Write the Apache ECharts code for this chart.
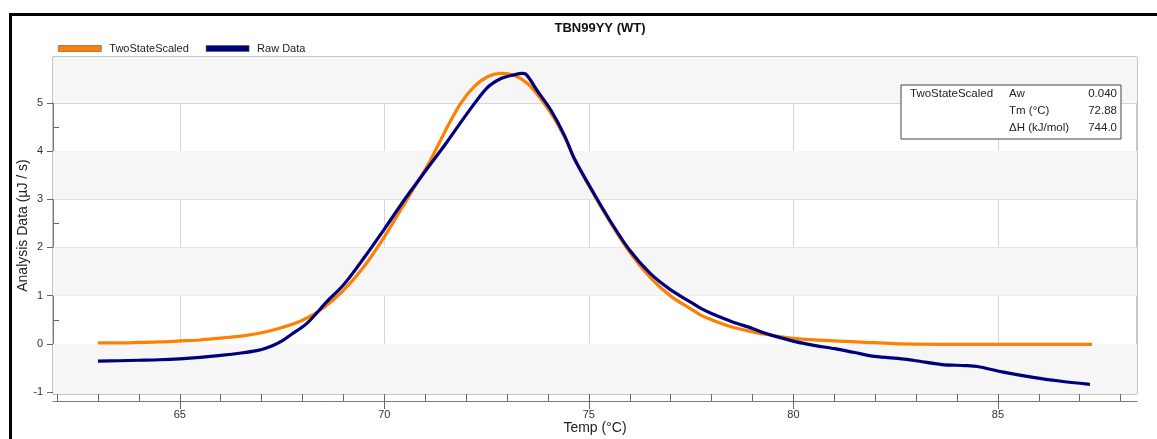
<!DOCTYPE html>
<html>
<head>
<meta charset="utf-8">
<script src="https://cdn.jsdelivr.net/npm/echarts@6/dist/echarts.min.js"></script>
<style>
html,body{margin:0;padding:0;background:#fff;}
#c{width:1157px;height:439px;}
</style>
</head>
<body>
<div id="c"></div>
<script>
// ---- data ----
const titleText = 'TBN99YY (WT)';
const seriesNames = ['TwoStateScaled', 'Raw Data'];
const fitTemp = [63.0,63.5,64.0,64.5,65.0,65.5,66.0,66.5,67.0,67.5,68.0,68.5,69.0,69.5,70.0,70.5,71.0,71.13,71.54,71.86,72.19,72.52,72.84,73.17,73.5,73.82,74.15,74.48,74.64,75.0,75.5,76.0,76.5,77.0,77.5,77.75,78.0,78.5,79.0,79.22,80.07,81.0,82.0,82.65,84.0,85.0,86.0,87.3];
const fitValue = [0.02,0.02,0.03,0.04,0.06,0.08,0.12,0.16,0.23,0.34,0.49,0.74,1.11,1.60,2.22,2.92,3.62,3.81,4.50,4.98,5.33,5.54,5.61,5.57,5.40,5.09,4.68,4.16,3.85,3.28,2.55,1.90,1.38,0.99,0.72,0.59,0.50,0.35,0.25,0.21,0.11,0.06,0.025,0.0,-0.01,-0.01,-0.01,-0.01];
const rawTemp = [63.0,63.5,64.0,64.5,65.0,65.5,66.0,66.5,66.88,67.1,67.29,67.5,67.7,68.1,68.6,69.0,69.5,70.0,70.5,71.0,71.5,72.0,72.5,72.84,73.17,73.37,73.45,73.73,74.07,74.4,74.64,75.0,75.5,76.0,76.5,77.0,77.5,77.75,78.0,78.5,79.0,79.22,79.5,80.07,80.5,81.01,81.5,81.99,82.65,83.0,83.63,84.2,84.5,85.1,85.9,86.5,87.25];
const rawValue = [-0.36,-0.35,-0.34,-0.33,-0.31,-0.28,-0.24,-0.19,-0.14,-0.09,-0.03,0.06,0.18,0.42,0.88,1.22,1.78,2.38,3.00,3.58,4.15,4.75,5.30,5.50,5.58,5.61,5.60,5.26,4.85,4.33,3.85,3.30,2.58,1.94,1.46,1.12,0.86,0.73,0.63,0.46,0.32,0.245,0.17,0.04,-0.03,-0.10,-0.18,-0.26,-0.31,-0.35,-0.43,-0.45,-0.47,-0.58,-0.70,-0.77,-0.84];
const xTickLabels = [65, 70, 75, 80, 85];
const xMinorTicks = [62,63,64,65,66,67,68,69,70,71,72,73,74,75,76,77,78,79,80,81,82,83,84,85,86,87,88];
const yTickLabels = [-1, 0, 1, 2, 3, 4, 5];
const yMinorTicks = [-0.5, 0.5, 1.5, 2.5, 3.5, 4.5, 5.5];
const xRange = [61.9, 88.4];
const yRange = [-1.04, 5.95];
const shadedBands = [[-1.04, 0], [1, 2], [3, 4], [5, 5.95]];
const infoSeries = 'TwoStateScaled';
const infoLabels = ['Aw', 'Tm (°C)', 'ΔH (kJ/mol)'];
const infoValues = ['0.040', '72.88', '744.0'];
const xAxisName = 'Temp (°C)';
const yAxisName = 'Analysis Data (µJ / s)';

// ---- chart ----
const FONT = '"Liberation Sans", Arial, sans-serif';
const chart = echarts.init(document.getElementById('c'), null, {renderer: 'canvas'});
const fitData = fitTemp.map((t, i) => [t, fitValue[i]]);
const rawData = rawTemp.map((t, i) => [t, rawValue[i]]);

const infoGraphics = [
  {type: 'rect', shape: {x: 901, y: 85, width: 220, height: 54}, style: {fill: '#fff', stroke: '#444', lineWidth: 1}, z: 100},
  {type: 'text', x: 910, y: 94, style: {text: infoSeries, font: '11.5px ' + FONT, fill: '#222', textVerticalAlign: 'middle'}, z: 101}
];
infoLabels.forEach((l, i) => {
  const y = 94 + i * 17;
  infoGraphics.push({type: 'text', x: 1009, y: y, style: {text: l, font: '11.5px ' + FONT, fill: '#222', textVerticalAlign: 'middle'}, z: 101});
  infoGraphics.push({type: 'text', x: 1117, y: y, style: {text: infoValues[i], font: '11.5px ' + FONT, fill: '#222', textAlign: 'right', textVerticalAlign: 'middle'}, z: 101});
});

chart.setOption({
  animation: false,
  backgroundColor: '#fff',
  title: {
    text: titleText, left: 595, top: 17, textAlign: 'center',
    textStyle: {fontFamily: FONT, fontSize: 13, fontWeight: 'bold', color: '#111'}
  },
  legend: {
    left: 53, top: 38, itemWidth: 43, itemHeight: 6, itemGap: 17, icon: 'rect',
    textStyle: {fontFamily: FONT, fontSize: 11, color: '#222', padding: [0, 0, 0, 3]},
    itemStyle: {borderColor: '#555', borderWidth: 0.6},
    data: seriesNames
  },
  grid: {left: 53, right: 20, top: 57, bottom: 45, show: true, borderColor: '#8a8a8a', borderWidth: 1, backgroundColor: '#fff', containLabel: false, outerBoundsMode: 'none'},
  xAxis: [{
    type: 'value', min: xRange[0], max: xRange[1], offset: 7, position: 'bottom',
    name: xAxisName, nameLocation: 'middle', nameGap: 20, nameMoveOverlap: false,
    nameTextStyle: {fontFamily: FONT, fontSize: 14, color: '#222'},
    axisLine: {show: true, onZero: false, lineStyle: {color: '#777', width: 1}},
    axisTick: {show: true, inside: false, length: 8, customValues: xTickLabels, lineStyle: {color: '#666'}},
    axisLabel: {customValues: xTickLabels, margin: 8, fontFamily: FONT, fontSize: 11, color: '#333'},
    splitLine: {show: true, lineStyle: {color: '#d6d6d6', width: 1}}
  }, {
    type: 'value', min: xRange[0], max: xRange[1], offset: 7, position: 'bottom',
    axisLine: {show: false, onZero: false},
    axisTick: {show: true, inside: true, length: 7, customValues: xMinorTicks, lineStyle: {color: '#666'}},
    axisLabel: {show: false},
    splitLine: {show: false}
  }],
  yAxis: [{
    type: 'value', min: yRange[0], max: yRange[1], position: 'left',
    name: yAxisName, nameLocation: 'middle', nameGap: 23, nameMoveOverlap: false,
    nameTextStyle: {fontFamily: FONT, fontSize: 14, color: '#222'},
    axisLine: {show: true, onZero: false, lineStyle: {color: '#777'}},
    axisTick: {show: true, inside: false, length: 6, customValues: yTickLabels, lineStyle: {color: '#666'}},
    axisLabel: {customValues: yTickLabels, margin: 10, fontFamily: FONT, fontSize: 11, color: '#333'},
    splitLine: {show: true, lineStyle: {color: '#d6d6d6', width: 1}}
  }, {
    type: 'value', min: yRange[0], max: yRange[1], position: 'left',
    axisLine: {show: false, onZero: false},
    axisTick: {show: true, inside: true, length: 6, customValues: yMinorTicks, lineStyle: {color: '#666'}},
    axisLabel: {show: false},
    splitLine: {show: false}
  }],
  series: [{
    type: 'line', name: '__bands', data: [], silent: true, z: 0,
    markArea: {
      silent: true,
      itemStyle: {color: '#f6f6f6'},
      data: shadedBands.map(b => [{yAxis: b[0]}, {yAxis: b[1]}])
    }
  }, {
    type: 'line', name: seriesNames[0], data: fitData, showSymbol: false, smooth: 0.3,
    lineStyle: {color: '#ff8000', width: 3.2}, itemStyle: {color: '#ff8000'}, z: 3
  }, {
    type: 'line', name: seriesNames[1], data: rawData, showSymbol: false, smooth: 0.3,
    lineStyle: {color: '#00007f', width: 3.2}, itemStyle: {color: '#00007f'}, z: 4
  }],
  graphic: [
    {type: 'rect', shape: {x: 10.5, y: 14.5, width: 1170, height: 460}, style: {fill: 'none', stroke: '#000', lineWidth: 3}, z: 100}
  ].concat(infoGraphics)
});
</script>
</body>
</html>
